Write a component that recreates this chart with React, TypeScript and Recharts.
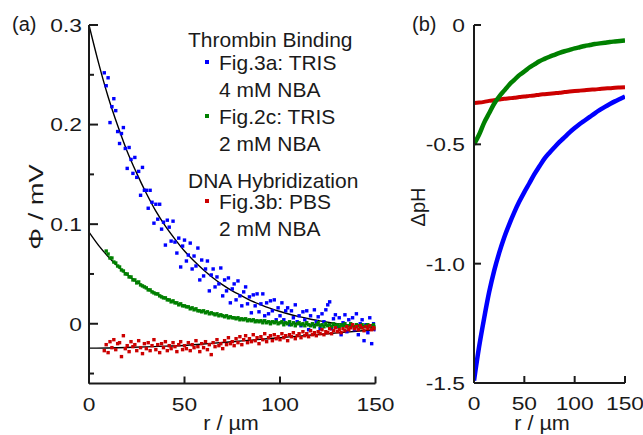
import React from 'react';
import { ComposedChart, Scatter, Line, XAxis, YAxis } from 'recharts';

// ---------- tick values ----------
const rTicks = [0, 50, 100, 150];
const phiTicks = [-0.05, 0, 0.05, 0.1, 0.15, 0.2, 0.25, 0.3];
const phTicks = [-1.5, -1, -0.5, 0];

// ---------- panel (a) measured points (r = start + index, µm) ----------
const blueStart = 8;
const bluePhi = [
  0.252, 0.239, 0.247, 0.202, 0.218, 0.226, 0.214, 0.193, 0.181, 0.191,
  0.197, 0.176, 0.156, 0.177, 0.165, 0.151, 0.167, 0.147, 0.153, 0.129,
  0.157, 0.134, 0.134, 0.116, 0.134, 0.122, 0.101, 0.12, 0.105, 0.12,
  0.095, 0.102, 0.079, 0.104, 0.097, 0.083, 0.103, 0.082, 0.071, 0.086,
  0.057, 0.078, 0.084, 0.063, 0.069, 0.081, 0.055, 0.068, 0.058, 0.076,
  0.044, 0.064, 0.048, 0.055, 0.063, 0.033, 0.049, 0.055, 0.037, 0.047,
  0.04, 0.056, 0.028, 0.044, 0.033, 0.046, 0.021, 0.035, 0.04, 0.024,
  0.043, 0.028, 0.018, 0.032, 0.037, 0.02, 0.027, 0.011, 0.029, 0.018,
  0.03, 0.012, 0.02, 0.03, 0.008, 0.021, 0.01, 0.023, 0.013, 0.024,
  0.004, 0.016, 0.008, 0.021, 0.004, 0.013, 0.016, -0.001, 0.013, 0.006,
  0.019, 0.002, 0.008, -0.002, 0.012, 0.004, 0.013, -0.006, 0.008, -0.001,
  0.014, 0.002, 0.007, -0.005, 0.01, 0.002, 0.014, 0.019, 0.022, -0.005,
  0.005, 0.009, -0.003, 0.006, -0.011, 0.001, 0.009, -0.008, 0.004, -0.003,
  0.006, -0.006, 0.01, -0.011, 0.0, 0.004, -0.017, -0.001, -0.009, 0.006,
  -0.02, 0.0, -0.006,
];

const greenStart = 9;
const greenPhi = [
  0.073, 0.07, 0.066, 0.066, 0.062, 0.061, 0.058, 0.057, 0.054, 0.053,
  0.05, 0.05, 0.047, 0.047, 0.044, 0.044, 0.041, 0.042, 0.039, 0.038,
  0.037, 0.036, 0.034, 0.034, 0.032, 0.031, 0.03, 0.03, 0.028, 0.027,
  0.026, 0.026, 0.024, 0.024, 0.022, 0.023, 0.021, 0.021, 0.019, 0.02,
  0.018, 0.018, 0.017, 0.017, 0.015, 0.016, 0.014, 0.015, 0.013, 0.013,
  0.012, 0.013, 0.011, 0.012, 0.01, 0.011, 0.01, 0.009, 0.01, 0.008,
  0.009, 0.008, 0.007, 0.008, 0.006, 0.007, 0.006, 0.006, 0.005, 0.006,
  0.004, 0.005, 0.004, 0.005, 0.003, 0.004, 0.003, 0.004, 0.002, 0.003,
  0.002, 0.003, 0.001, 0.003, 0.001, 0.002, 0.0, 0.002, 0.001, 0.002,
  0.0, 0.001, 0.002, -0.001, 0.001, 0.0, 0.002, -0.001, 0.001, -0.002,
  0.0, 0.001, -0.001, 0.0, -0.002, 0.001, -0.001, -0.002, 0.0, -0.003,
  -0.001, 0.001, -0.002, -0.001, -0.003, 0.0, -0.002, -0.001, -0.003, 0.0,
  -0.002, -0.001, -0.003, -0.001, -0.002, 0.0, -0.003, -0.002, 0.0, -0.002,
  -0.003, -0.001, -0.002, -0.004, -0.001, -0.003, -0.002, -0.001, -0.003, -0.002,
  -0.001, -0.003,
];

const redStart = 8;
const redPhi = [
  -0.027, -0.021, -0.029, -0.018, -0.024, -0.016, -0.026, -0.02, -0.019, -0.033,
  -0.012, -0.025, -0.022, -0.028, -0.018, -0.023, -0.021, -0.027, -0.017, -0.024,
  -0.03, -0.02, -0.025, -0.019, -0.027, -0.022, -0.016, -0.026, -0.021, -0.029,
  -0.02, -0.024, -0.018, -0.027, -0.022, -0.025, -0.019, -0.023, -0.028, -0.021,
  -0.018, -0.026, -0.022, -0.025, -0.019, -0.027, -0.021, -0.024, -0.017, -0.023,
  -0.028, -0.02, -0.024, -0.018, -0.026, -0.021, -0.031, -0.019, -0.023, -0.016,
  -0.022, -0.02, -0.025, -0.017, -0.021, -0.014, -0.02, -0.018, -0.022, -0.015,
  -0.019, -0.013, -0.021, -0.016, -0.012, -0.019, -0.015, -0.018, -0.011, -0.017,
  -0.014, -0.02, -0.013, -0.016, -0.01, -0.018, -0.014, -0.012, -0.017, -0.011,
  -0.015, -0.013, -0.016, -0.01, -0.014, -0.012, -0.017, -0.011, -0.013, -0.009,
  -0.015, -0.012, -0.01, -0.014, -0.008, -0.012, -0.01, -0.013, -0.007, -0.011,
  -0.009, -0.012, -0.008, -0.01, -0.006, -0.011, -0.008, -0.009, -0.005, -0.01,
  -0.007, -0.004, -0.008, -0.006, -0.009, -0.005, -0.007, -0.003, -0.006, -0.004,
  -0.001, -0.005, -0.003, -0.006, -0.002, -0.004, -0.007, -0.003, -0.005, -0.002,
  -0.006, -0.004, -0.005,
];

// ---------- panel (a) fit curves ----------
const fitR = [0, 5, 10, 15, 20, 25, 30, 35, 40, 45, 50, 55, 60, 65, 70, 75, 80, 85, 90, 95, 100, 105, 110, 115, 120, 125, 130, 135, 140, 145, 150];
const blueFitPhi = [0.3, 0.262, 0.228, 0.199, 0.173, 0.151, 0.131, 0.113, 0.098, 0.085, 0.073, 0.063, 0.054, 0.046, 0.039, 0.033, 0.028, 0.023, 0.019, 0.0154, 0.0123, 0.0095, 0.0071, 0.005, 0.0032, 0.0015, 0.0001, -0.0011, -0.0022, -0.0031, -0.004];
const greenFitPhi = [0.092, 0.0787, 0.0675, 0.0577, 0.0493, 0.042, 0.0357, 0.0303, 0.0256, 0.0215, 0.0181, 0.015, 0.0124, 0.0102, 0.0083, 0.0066, 0.0051, 0.0039, 0.0028, 0.0019, 0.0011, 0.0004, -0.0002, -0.0008, -0.0012, -0.0016, -0.0019, -0.0022, -0.0025, -0.0027, -0.0028];
const redFitR = [0, 10, 20, 30, 40, 50, 60, 70, 80, 90, 100, 110, 120, 130, 140, 150];
const redFitPhi = [-0.0245, -0.0243, -0.0238, -0.0232, -0.0225, -0.0218, -0.0203, -0.0188, -0.0172, -0.0156, -0.014, -0.0124, -0.0108, -0.0092, -0.0076, -0.006];

// ---------- panel (b) ΔpH curves ----------
const phR = fitR;
const bluePH = [-1.49, -1.35, -1.23, -1.12, -1.03, -0.955, -0.89, -0.835, -0.785, -0.74, -0.7, -0.663, -0.625, -0.592, -0.56, -0.535, -0.512, -0.49, -0.47, -0.45, -0.432, -0.415, -0.4, -0.385, -0.37, -0.356, -0.343, -0.331, -0.32, -0.31, -0.3];
const greenPH = [-0.5, -0.46, -0.41, -0.37, -0.33, -0.3, -0.275, -0.25, -0.23, -0.21, -0.195, -0.178, -0.165, -0.152, -0.142, -0.133, -0.125, -0.117, -0.11, -0.104, -0.098, -0.093, -0.088, -0.084, -0.08, -0.077, -0.074, -0.071, -0.069, -0.067, -0.065];
const redPH = [-0.327, -0.325, -0.322, -0.318, -0.315, -0.312, -0.309, -0.307, -0.305, -0.302, -0.3, -0.297, -0.295, -0.292, -0.29, -0.288, -0.286, -0.284, -0.281, -0.279, -0.277, -0.275, -0.273, -0.271, -0.27, -0.268, -0.266, -0.265, -0.263, -0.262, -0.261];

// ---------- styling ----------
const BLUE = '#0000ff';
const GREEN = '#008000';
const RED = '#cc0000';
const INK = '#1a1a1a';
const FONT = '"Liberation Sans", Arial, Helvetica, sans-serif';

const pts = (start: number, arr: number[]) => arr.map((y, i) => ({ x: start + i, y }));
const curve = (xs: number[], ys: number[]) => xs.map((x, i) => ({ x, y: ys[i] }));

const square = (color: string) => (props: any) => {
  const { cx, cy } = props;
  if (cx == null || cy == null) return <g />;
  return <rect x={cx - 1.7} y={cy - 1.7} width={3.4} height={3.4} fill={color} />;
};

const fmt = (v: number) => (Math.abs(v) < 1e-9 ? '0' : v.toFixed(1));

const makeYTick = (gap: number, majorLen: number, minorLen: number) => (props: any) => {
  const { x, y, payload } = props;
  const v = payload.value as number;
  const major = Math.abs(v * 10 - Math.round(v * 10)) < 1e-6 && (Math.abs(v) < 1e-9 || Math.abs(v * 2 - Math.round(v * 2)) < 1e-6 || Math.abs(v) < 0.35);
  return (
    <g>
      <line x1={x} x2={x + (major ? majorLen : minorLen)} y1={y} y2={y} stroke={INK} strokeWidth={2} />
      {major && (
        <text
          transform={`translate(${x - gap},${y}) scale(1.2,1)`}
          dy="0.36em"
          textAnchor="end"
          fontSize={19}
          fontFamily={FONT}
          fill={INK}
        >
          {fmt(v)}
        </text>
      )}
    </g>
  );
};

const XTick = (props: any) => {
  const { x, y, payload } = props;
  return (
    <g>
      <line x1={x} x2={x} y1={y} y2={y - 7} stroke={INK} strokeWidth={2} />
      <text
        transform={`translate(${x},${y + 27}) scale(1.2,1)`}
        textAnchor="middle"
        fontSize={19}
        fontFamily={FONT}
        fill={INK}
      >
        {payload.value}
      </text>
    </g>
  );
};

const YTickA = makeYTick(7, 9, 5);
const YTickB = makeYTick(9, 7, 7);

const legendLines: { text: string; x: number; y: number; color?: string }[] = [
  { text: 'Thrombin Binding', x: 188, y: 47 },
  { text: 'Fig.3a: TRIS', x: 219, y: 70, color: BLUE },
  { text: '4 mM NBA', x: 219, y: 97 },
  { text: 'Fig.2c: TRIS', x: 219, y: 124, color: GREEN },
  { text: '2 mM NBA', x: 219, y: 151 },
  { text: 'DNA Hybridization', x: 188, y: 188 },
  { text: 'Fig.3b: PBS', x: 219, y: 209, color: RED },
  { text: '2 mM NBA', x: 219, y: 236 },
];

export default function App() {
  const axisLine = { stroke: INK, strokeWidth: 2 };
  return (
    <div style={{ position: 'absolute', left: 0, top: 0, width: 643, height: 435, background: '#fff', overflow: 'hidden' }}>
      {/* panel (a) */}
      <div style={{ position: 'absolute', left: 0, top: 0 }}>
        <ComposedChart width={400} height={435} margin={{ top: 25, right: 24.5, bottom: 11.5, left: 39 }}>
          <XAxis
            dataKey="x"
            type="number"
            domain={[0, 150]}
            ticks={rTicks}
            interval={0}
            allowDataOverflow
            height={40}
            tickSize={0}
            tickMargin={0}
            axisLine={axisLine}
            tickLine={false}
            tick={<XTick />}
          />
          <YAxis
            dataKey="y"
            type="number"
            domain={[-0.06, 0.3]}
            ticks={phiTicks}
            interval={0}
            allowDataOverflow
            width={50}
            tickSize={0}
            tickMargin={0}
            axisLine={axisLine}
            tickLine={false}
            tick={<YTickA />}
          />
          <Scatter data={pts(blueStart, bluePhi)} dataKey="y" shape={square(BLUE)} isAnimationActive={false} />
          <Scatter data={pts(greenStart, greenPhi)} dataKey="y" shape={square(GREEN)} isAnimationActive={false} />
          <Scatter data={pts(redStart, redPhi)} dataKey="y" shape={square(RED)} isAnimationActive={false} />
          <Line data={curve(fitR, blueFitPhi)} dataKey="y" type="monotone" stroke="#000" strokeWidth={1.4} dot={false} isAnimationActive={false} />
          <Line data={curve(fitR, greenFitPhi)} dataKey="y" type="monotone" stroke="#000" strokeWidth={1.4} dot={false} isAnimationActive={false} />
          <Line data={curve(redFitR, redFitPhi)} dataKey="y" type="monotone" stroke="#000" strokeWidth={1.4} dot={false} isAnimationActive={false} />
        </ComposedChart>
      </div>

      {/* panel (b) */}
      <div style={{ position: 'absolute', left: 400, top: 0 }}>
        <ComposedChart width={243} height={435} margin={{ top: 25, right: 18, bottom: 12, left: 24 }}>
          <XAxis
            dataKey="x"
            type="number"
            domain={[0, 150]}
            ticks={rTicks}
            interval={0}
            allowDataOverflow
            height={40}
            tickSize={0}
            tickMargin={0}
            axisLine={axisLine}
            tickLine={false}
            tick={<XTick />}
          />
          <YAxis
            dataKey="y"
            type="number"
            domain={[-1.5, 0]}
            ticks={phTicks}
            interval={0}
            allowDataOverflow
            width={50}
            tickSize={0}
            tickMargin={0}
            axisLine={axisLine}
            tickLine={false}
            tick={<YTickB />}
          />
          <Line data={curve(phR, redPH)} dataKey="y" type="monotone" stroke={RED} strokeWidth={4} dot={false} isAnimationActive={false} />
          <Line data={curve(phR, greenPH)} dataKey="y" type="monotone" stroke={GREEN} strokeWidth={4.5} dot={false} isAnimationActive={false} />
          <Line data={curve(phR, bluePH)} dataKey="y" type="monotone" stroke={BLUE} strokeWidth={4.5} dot={false} isAnimationActive={false} />
        </ComposedChart>
      </div>

      {/* text overlay */}
      <svg width={643} height={435} style={{ position: 'absolute', left: 0, top: 0, pointerEvents: 'none' }}>
        <g fontFamily={FONT} fill={INK} fontSize={20}>
          <text x={12} y={31}>(a)</text>
          <text x={412} y={31}>(b)</text>
          {legendLines.map((l, i) => (
            <g key={i}>
              {l.color && <rect x={205} y={l.y - 10} width={4} height={4} fill={l.color} />}
              <text transform={`translate(${l.x},${l.y}) scale(1.05,1)`}>{l.text}</text>
            </g>
          ))}
          <text transform="translate(231,430) scale(1.08,1)" textAnchor="middle">r / µm</text>
          <text transform="translate(542,430) scale(1.08,1)" textAnchor="middle">r / µm</text>
          <text transform="translate(43,207) rotate(-90) scale(1.3,1)" textAnchor="middle" fontSize={21}>Φ / mV</text>
          <text transform="translate(425,207) rotate(-90)" textAnchor="middle">ΔpH</text>
        </g>
      </svg>
    </div>
  );
}
